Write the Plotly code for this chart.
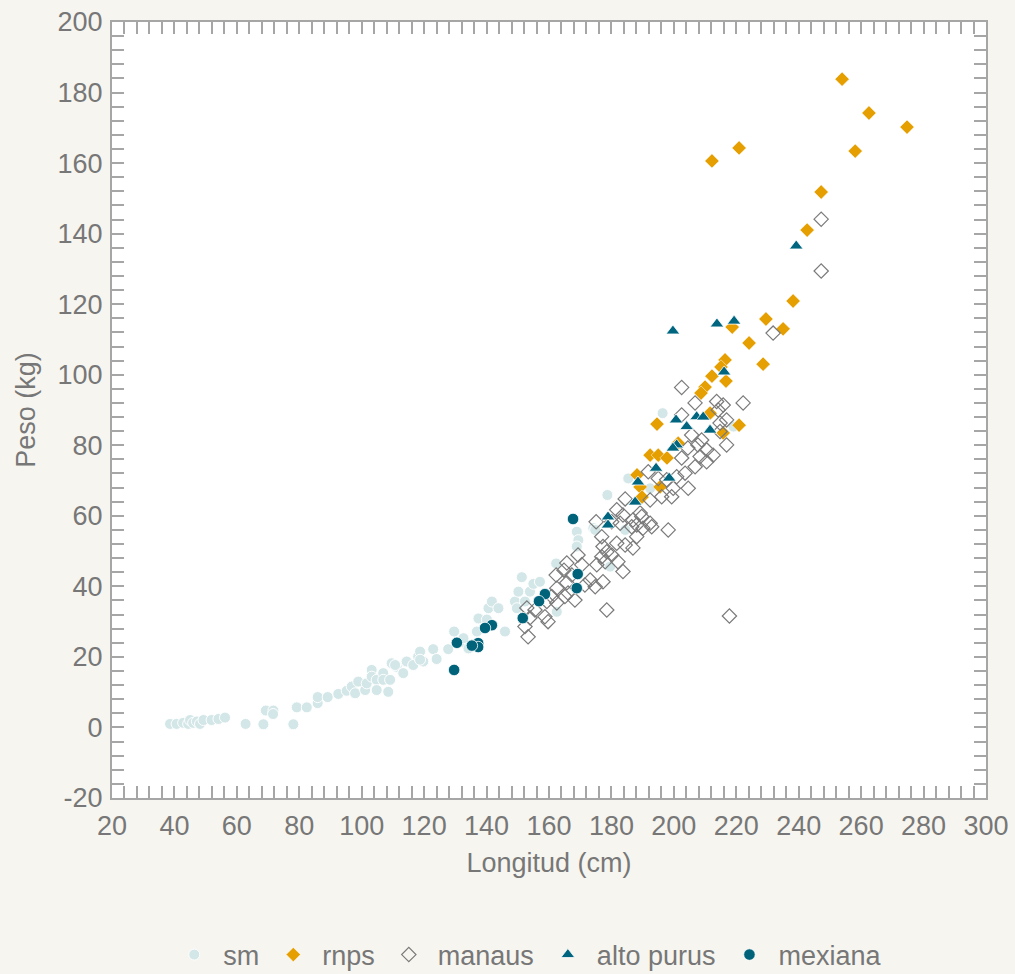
import plotly.graph_objects as go

# ---- data (Longitud cm, Peso kg) ----
sm_x = [38.6, 40.7, 42.8, 44.4, 45.0, 46.0, 47.2, 48.2, 49.3, 51.9, 54.1, 56.2, 62.8, 68.5,
        69.3, 71.7, 71.6, 78.1, 79.2, 82.4, 85.9, 85.9, 89.1, 92.5, 95.2, 96.8, 98.9, 97.9,
        101.1, 101.6, 103.2, 103.2, 104.8, 106.9, 106.9, 109.1, 108.5, 104.8, 109.6, 111.2,
        113.3, 114.4, 116.5, 118.1, 118.7, 119.7, 122.9, 124.0, 127.7, 118.7, 110.7, 129.6,
        133.1, 134.2, 132.6, 136.9, 137.4, 140.1, 140.6, 141.7, 143.8, 145.9, 149.1, 149.7,
        150.2, 151.3, 153.9, 155.0, 157.1, 162.3, 162.5, 152.3, 168.9, 169.4, 168.9, 174.2,
        174.8, 184.4, 178.7, 196.4, 185.4, 192.4, 219.1, 179.6]
sm_y = [1.0, 1.0, 1.3, 1.0, 2.1, 1.3, 1.7, 1.0, 2.1, 2.1, 2.4, 2.8, 1.0, 0.9,
        4.8, 4.8, 3.8, 0.9, 5.7, 5.7, 6.9, 8.6, 8.6, 9.5, 10.4, 11.6, 13.0, 9.7,
        10.6, 12.5, 16.3, 14.4, 13.5, 15.4, 13.5, 13.5, 10.1, 10.6, 18.2, 17.2,
        15.4, 18.7, 17.7, 20.1, 21.5, 18.7, 22.2, 19.4, 22.2, 19.2, 17.7, 27.2,
        23.9, 22.4, 25.3, 27.2, 30.9, 30.6, 33.8, 35.7, 33.8, 27.2, 35.7, 33.8,
        38.5, 42.6, 38.5, 40.7, 41.3, 46.5, 32.8, 35.7, 55.5, 53.1, 51.3, 56.5,
        56.0, 56.0, 65.9, 89.1, 70.6, 67.8, 85.3, 45.6]

rnps_x = [253.9, 262.5, 274.7, 258.1, 220.9, 212.2, 247.2, 242.7, 238.2, 229.5, 235.0, 224.1,
          228.6, 218.7, 216.4, 215.1, 212.2, 210.0, 208.7, 216.7, 211.6, 220.9, 194.6, 215.8,
          192.4, 195.0, 197.8, 188.2, 189.2, 189.8, 195.6, 201.4]
rnps_y = [183.8, 174.2, 170.2, 163.4, 164.3, 160.6, 151.8, 141.0, 120.9, 115.8, 113.0, 109.0,
          103.0, 113.5, 104.2, 102.2, 99.6, 96.5, 94.8, 98.2, 89.1, 85.7, 86.0, 83.5,
          77.2, 77.2, 76.4, 71.6, 68.2, 65.3, 68.2, 80.6]

manaus_x = [184.4, 192.4, 181.7, 183.7, 175.1, 180.1, 182.8, 186.9, 189.7, 192.4, 186.5, 190.1,
            192.9, 176.9, 181.7, 188.1, 184.4, 186.9, 177.3, 178.5, 176.9, 180.1, 182.1, 169.3,
            165.7, 170.5, 175.3, 178.0, 162.3, 164.8, 167.3, 173.2, 177.3, 183.7, 162.5, 160.9,
            165.7, 166.1, 171.5, 174.8, 165.1, 168.3, 162.5, 159.3, 155.5, 152.9, 158.7, 159.7,
            178.5, 153.9, 152.3, 153.3,
            202.5, 206.8, 213.7, 215.8, 222.2, 202.5, 214.2, 216.9, 214.8, 205.7, 208.9, 214.8,
            216.9, 204.5, 207.7, 210.5, 212.6, 202.5, 208.4, 210.5, 206.8, 203.6, 200.9, 191.8,
            195.0, 197.7, 204.6, 199.8, 196.1, 199.3, 189.2, 198.2, 188.1,
            217.8, 231.8, 247.2, 247.2]
manaus_y = [64.8, 64.5, 61.7, 60.2, 58.3, 58.3, 57.9, 58.8, 59.8, 57.9, 56.9, 56.5,
            56.9, 54.1, 52.2, 54.1, 51.7, 50.9, 51.3, 49.8, 48.4, 48.9, 47.0, 48.9,
            46.6, 46.1, 46.1, 47.0, 43.2, 44.6, 43.2, 41.8, 41.3, 44.2, 39.5, 37.1,
            41.0, 38.1, 40.4, 39.9, 37.1, 36.1, 35.3, 35.7, 33.3, 33.9, 31.4, 30.0,
            33.3, 31.1, 28.6, 25.7,
            96.4, 92.0, 92.4, 91.4, 92.0, 88.6, 90.0, 87.2, 86.3, 82.9, 81.5, 83.9,
            80.1, 79.2, 80.1, 78.7, 77.2, 76.4, 76.8, 75.3, 73.9, 72.1, 71.1, 72.5,
            70.6, 70.2, 67.8, 67.8, 65.4, 65.4, 60.8, 56.0, 57.4,
            31.6, 111.8, 144.1, 129.4]

alto_x = [213.8, 219.3, 199.7, 239.2, 216.1, 200.7, 207.3, 209.4, 204.1, 211.6, 200.9, 199.7,
          194.3, 198.5, 188.5, 187.6, 178.9, 178.9]
alto_y = [114.4, 115.2, 112.4, 136.5, 100.8, 87.2, 88.1, 88.0, 85.3, 84.3, 80.1, 79.2,
          73.5, 70.7, 69.6, 63.9, 59.7, 57.4]

mex_x = [167.7, 169.2, 168.9, 158.7, 156.8, 151.6, 141.7, 139.5, 137.3, 137.3, 135.3, 130.5, 129.6]
mex_y = [59.1, 43.5, 39.5, 37.8, 35.8, 31.0, 29.0, 28.2, 23.9, 22.8, 23.2, 24.0, 16.3]

x_ticks = [20, 40, 60, 80, 100, 120, 140, 160, 180, 200, 220, 240, 260, 280, 300]
y_ticks = [-20, 0, 20, 40, 60, 80, 100, 120, 140, 160, 180, 200]
y_tick_text = ["-20", "0", "20", "40", "60", "80", "100", "120", "140", "160", "180", "200"]

x_title = "Longitud (cm)"
y_title = "Peso (kg)"

GRAY = "#a6a6a6"
TXT = "#777777"
FONT = "Arial, Liberation Sans, sans-serif"
FS = 27

fig = go.Figure()
fig.add_trace(go.Scatter(x=sm_x, y=sm_y, mode="markers", name="sm",
                         marker=dict(symbol="circle", size=11, color="#d3e6e8",
                                     line=dict(color="white", width=1))))
fig.add_trace(go.Scatter(x=rnps_x, y=rnps_y, mode="markers", name="rnps",
                         marker=dict(symbol="diamond", size=11, color="#e69f00",
                                     line=dict(color="white", width=0.5))))
fig.add_trace(go.Scatter(x=manaus_x, y=manaus_y, mode="markers", name="manaus",
                         marker=dict(symbol="diamond-open", size=11, color="#7a7a7a",
                                     line=dict(color="#7a7a7a", width=1.2))))
fig.add_trace(go.Scatter(x=alto_x, y=alto_y, mode="markers", name="alto purus",
                         marker=dict(symbol="triangle-up", size=12, color="#00667f",
                                     line=dict(color="white", width=0.8))))
fig.add_trace(go.Scatter(x=mex_x, y=mex_y, mode="markers", name="mexiana",
                         marker=dict(symbol="circle", size=11.5, color="#00637a",
                                     line=dict(color="white", width=0.8))))

axis_common = dict(
    automargin=False,
    showgrid=False, zeroline=False, showline=True, linecolor=GRAY, linewidth=2,
    mirror="allticks", ticks="inside", ticklen=12, tickwidth=2, tickcolor=GRAY,
    tickfont=dict(family=FONT, size=FS, color=TXT),
    title_font=dict(family=FONT, size=FS, color=TXT),
)

fig.update_xaxes(range=[20, 300], tickvals=x_ticks, ticklabelstandoff=3,
                 minor=dict(dtick=4, tick0=20, ticks="inside", ticklen=12, tickwidth=2, tickcolor=GRAY),
                 title_text=x_title, title_standoff=13, **axis_common)
fig.update_yaxes(range=[-20, 200], tickvals=y_ticks, ticktext=y_tick_text, ticklabelstandoff=2,
                 minor=dict(dtick=4, tick0=0, ticks="inside", ticklen=12, tickwidth=2, tickcolor=GRAY),
                 title_text=y_title, title_standoff=14, **axis_common)

fig.update_layout(
    width=1015, height=974,
    margin=dict(l=112, r=29, t=22, b=176),
    paper_bgcolor="#f6f5f0", plot_bgcolor="white",
    font=dict(family=FONT, color=TXT),
    showlegend=True,
    legend=dict(orientation="h", x=0.474, xanchor="center", xref="paper",
                y=0.0195, yanchor="middle", yref="container",
                font=dict(family=FONT, size=FS, color=TXT), bgcolor="rgba(0,0,0,0)",
                itemsizing="trace", itemwidth=48),
)

fig.write_html("out.html")
